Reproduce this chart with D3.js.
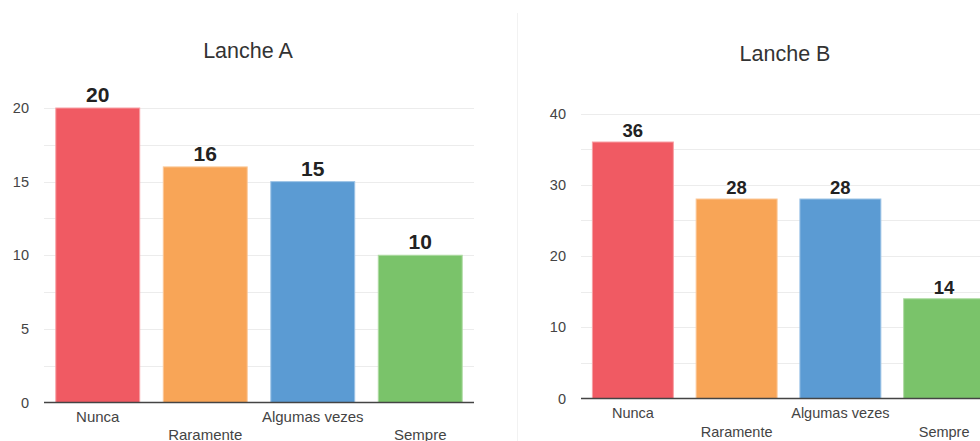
<!DOCTYPE html>
<html>
<head>
<meta charset="utf-8">
<script src="https://cdn.jsdelivr.net/npm/d3@7"></script>
<style>
  html, body { margin: 0; padding: 0; background: #fff; }
  svg { display: block; font-family: "Liberation Sans", Arial, sans-serif; }
</style>
</head>
<body>
<svg id="chart" width="980" height="441"></svg>
<script>
const categories = ["Nunca", "Raramente", "Algumas vezes", "Sempre"];
const titles = ["Lanche A", "Lanche B"];
const valuesA = [20, 16, 15, 10];
const valuesB = [36, 28, 28, 14];
const ticksA = [0, 5, 10, 15, 20];
const ticksB = [0, 10, 20, 30, 40];
const colors = ["#F05A63", "#F8A557", "#5B9BD3", "#7AC36A"];
const strokeColors = ["#F7A0A5", "#FBC898", "#9CC3E6", "#AEDBA3"];

const svg = d3.select("#chart");

// faint panel separator
svg.append("line").attr("x1", 517.5).attr("x2", 517.5).attr("y1", 13).attr("y2", 441)
  .attr("stroke", "#f2f2f2").attr("stroke-width", 1);

const panels = [
  { title: titles[0], values: valuesA, ticks: ticksA, max: 20, gridStep: 2.5,
    x0: 44, x1: 474, yTop: 108, yBot: 402.5, titleX: 248, titleY: 58,
    tickX: 29, labY1: 422, labY2: 440, valFont: 21, valGap: 6, valFontSize: 15 },
  { title: titles[1], values: valuesB, ticks: ticksB, max: 40, gridStep: 5,
    x0: 581, x1: 996, yTop: 113.5, yBot: 398.5, titleX: 785, titleY: 61,
    tickX: 566, labY1: 418, labY2: 437, valFont: 18.5, valGap: 5, valFontSize: 14.5 }
];

panels.forEach(p => {
  const g = svg.append("g");
  const x = d3.scaleBand().domain(categories).range([p.x0, p.x1])
    .paddingInner(0.21).paddingOuter(0.105);
  const y = d3.scaleLinear().domain([0, p.max]).range([p.yBot, p.yTop]);

  // title
  g.append("text").attr("x", p.titleX).attr("y", p.titleY)
    .attr("text-anchor", "middle").attr("font-size", 21.5).attr("fill", "#333")
    .text(p.title);

  // gridlines
  const grid = d3.range(p.gridStep, p.max + 0.001, p.gridStep);
  g.selectAll(".grid").data(grid).enter().append("line")
    .attr("x1", p.x0).attr("x2", p.x1)
    .attr("y1", d => Math.round(y(d)) + 0.5).attr("y2", d => Math.round(y(d)) + 0.5)
    .attr("stroke", "#ececec").attr("stroke-width", 1);

  // y axis labels
  const yAxis = d3.axisLeft(y).tickValues(p.ticks).tickSize(0).tickPadding(0);
  const ya = g.append("g").attr("transform", `translate(${p.tickX},0)`).call(yAxis);
  ya.select(".domain").remove();
  ya.selectAll("text").attr("font-size", 14.5).attr("fill", "#444")
    .attr("font-family", "\"Liberation Sans\", Arial, sans-serif");

  // bars
  g.selectAll(".bar").data(p.values).enter().append("rect")
    .attr("x", (d, i) => x(categories[i]) + 0.5)
    .attr("y", d => y(d))
    .attr("width", x.bandwidth() - 1)
    .attr("height", d => y(0) - y(d))
    .attr("fill", (d, i) => colors[i])
    .attr("stroke", (d, i) => strokeColors[i])
    .attr("stroke-width", 1);

  // value labels
  g.selectAll(".val").data(p.values).enter().append("text")
    .attr("x", (d, i) => x(categories[i]) + x.bandwidth() / 2)
    .attr("y", d => y(d) - p.valGap)
    .attr("text-anchor", "middle").attr("font-weight", "bold")
    .attr("font-size", p.valFont).attr("fill", "#222")
    .text(d => d);

  // x axis baseline
  g.append("line").attr("x1", p.x0).attr("x2", p.x1)
    .attr("y1", y(0)).attr("y2", y(0))
    .attr("stroke", "#444").attr("stroke-width", 1.5);

  // x category labels (staggered)
  const xAxis = d3.axisBottom(x).tickSize(0).tickPadding(0);
  const xa = g.append("g").call(xAxis);
  xa.select(".domain").remove();
  xa.selectAll(".tick text")
    .attr("y", (d, i) => (i % 2 === 0 ? p.labY1 : p.labY2))
    .attr("dy", 0)
    .attr("font-size", p.valFontSize).attr("fill", "#444")
    .attr("font-family", "\"Liberation Sans\", Arial, sans-serif");
});
</script>
</body>
</html>
